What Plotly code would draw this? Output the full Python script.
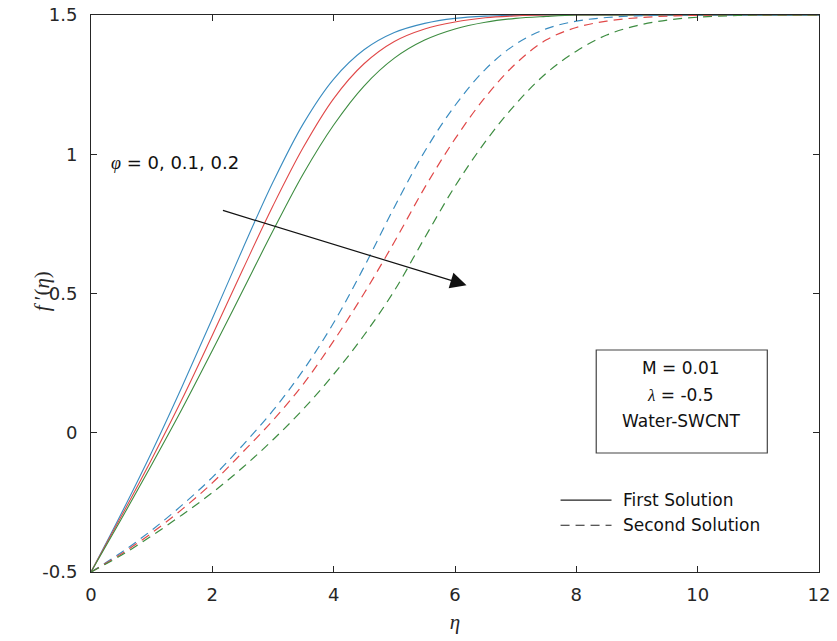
import plotly.graph_objects as go

# ---- data ----
eta_first = [0, 0.5, 1.0, 1.5, 2.0, 2.5, 3.0, 3.5, 4.0, 4.5, 5.0, 5.5, 6.0, 6.5, 7.0, 7.5, 8.0, 9.0, 10.0, 11.0, 12.0]
first_phi0 = [-0.5, -0.29, -0.07, 0.165, 0.41, 0.66, 0.90, 1.11, 1.27, 1.375, 1.437, 1.47, 1.488, 1.496, 1.499, 1.5, 1.5, 1.5, 1.5, 1.5, 1.5]
first_phi1 = [-0.5, -0.30, -0.095, 0.12, 0.35, 0.585, 0.815, 1.025, 1.20, 1.325, 1.405, 1.45, 1.475, 1.49, 1.497, 1.5, 1.5, 1.5, 1.5, 1.5, 1.5]
first_phi2 = [-0.5, -0.31, -0.115, 0.085, 0.295, 0.51, 0.725, 0.93, 1.105, 1.245, 1.345, 1.41, 1.45, 1.474, 1.488, 1.495, 1.5, 1.5, 1.5, 1.5, 1.5]

eta_second = [0, 0.5, 1.0, 1.5, 2.0, 2.5, 3.0, 3.5, 4.0, 4.5, 5.0, 5.5, 6.0, 6.5, 7.0, 7.5, 8.0, 8.5, 9.0, 9.5, 10.0, 10.5, 11.0, 12.0]
second_phi0 = [-0.5, -0.43, -0.35, -0.26, -0.16, -0.045, 0.08, 0.225, 0.395, 0.595, 0.81, 1.01, 1.175, 1.305, 1.395, 1.45, 1.478, 1.491, 1.497, 1.5, 1.5, 1.5, 1.5, 1.5]
second_phi1 = [-0.5, -0.435, -0.36, -0.275, -0.18, -0.07, 0.045, 0.175, 0.33, 0.50, 0.685, 0.88, 1.055, 1.205, 1.325, 1.41, 1.455, 1.478, 1.49, 1.496, 1.499, 1.5, 1.5, 1.5]
second_phi2 = [-0.5, -0.44, -0.37, -0.295, -0.215, -0.125, -0.025, 0.085, 0.21, 0.35, 0.51, 0.70, 0.885, 1.045, 1.18, 1.29, 1.37, 1.428, 1.462, 1.482, 1.492, 1.497, 1.5, 1.5]

phi_labels = ["0", "0.1", "0.2"]
colors = ["#3A8CC0", "#E04848", "#3D8C40"]

x_ticks = [0, 2, 4, 6, 8, 10, 12]
y_ticks = [-0.5, 0, 0.5, 1, 1.5]
y_ticktext = ["-0.5", "0", "0.5", "1", "1.5"]

arrow_start = (2.15, 0.80)
arrow_end = (6.19, 0.53)

legend_labels = ["First Solution", "Second Solution"]
legend_dashes = ["solid", "9px,6px"]

fig = go.Figure()

for ys, c, p in zip([first_phi0, first_phi1, first_phi2], colors, phi_labels):
    fig.add_trace(go.Scatter(x=eta_first, y=ys, mode="lines",
                             line=dict(color=c, width=1.1, shape="spline", smoothing=1.0),
                             name=f"First, φ={p}", showlegend=False))
for ys, c, p in zip([second_phi0, second_phi1, second_phi2], colors, phi_labels):
    fig.add_trace(go.Scatter(x=eta_second, y=ys, mode="lines",
                             line=dict(color=c, width=1.2, dash="9px,6px", shape="spline", smoothing=1.0),
                             name=f"Second, φ={p}", showlegend=False))

font_main = "DejaVu Sans, Arial, sans-serif"
serif = "Liberation Serif, Times New Roman, serif"

# arrow and phi label
fig.add_annotation(x=arrow_end[0], y=arrow_end[1], ax=arrow_start[0], ay=arrow_start[1],
                   xref="x", yref="y", axref="x", ayref="y", text="", showarrow=True,
                   arrowhead=2, arrowsize=2.7, arrowwidth=1.2, arrowcolor="#111111")
fig.add_annotation(x=0.29, y=0.97, xref="x", yref="y", xanchor="left", yanchor="middle",
                   text=f"<span style='font-family:{serif}'><i>φ</i></span> = " + ", ".join(phi_labels),
                   showarrow=False, font=dict(family=font_main, size=18, color="#111111"))

# parameter box
fig.add_shape(type="rect", xref="paper", yref="paper", x0=0.694, x1=0.929, y0=0.2136, y1=0.3986,
              line=dict(color="#444444", width=1.2), fillcolor="white", layer="above")
box_lines = ["M = 0.01", f"<span style='font-family:{serif}'><i>λ</i></span> = -0.5", "Water-SWCNT"]
box_y = [0.366, 0.318, 0.271]
for t, yy in zip(box_lines, box_y):
    fig.add_annotation(x=0.810, y=yy, xref="paper", yref="paper", text=t, showarrow=False,
                       xanchor="center", yanchor="middle", font=dict(family=font_main, size=17, color="#111111"))

# legend (line samples + labels)
leg_y = [0.129, 0.084]
for lab, d, yy in zip(legend_labels, legend_dashes, leg_y):
    fig.add_shape(type="line", xref="paper", yref="paper", x0=0.645, x1=0.715, y0=yy, y1=yy,
                  line=dict(color="#222222", width=1.1, dash=d))
    fig.add_annotation(x=0.728, y=yy, xref="paper", yref="paper", text=lab, showarrow=False,
                       xanchor="left", yanchor="middle", font=dict(family=font_main, size=17, color="#111111"))

# y-axis title
fig.add_annotation(x=-0.0673, y=0.504, xref="paper", yref="paper", text="<i>f</i> ′(<i>η</i>)",
                   textangle=-90, showarrow=False, xanchor="center", yanchor="middle",
                   font=dict(family=serif, size=21, color="#262626"))

fig.update_layout(
    width=837, height=641,
    margin=dict(l=91, r=18, t=15, b=69),
    paper_bgcolor="white", plot_bgcolor="white",
    font=dict(family=font_main, size=18, color="#262626"),
    showlegend=False,
    xaxis=dict(range=[0, 12], tickvals=x_ticks, ticks="inside", ticklen=6, tickcolor="#262626",
               showline=True, linecolor="#262626", linewidth=1, mirror="ticks", showgrid=False, zeroline=False,
               ticklabelstandoff=6, automargin=False,
               title=dict(text="<i>η</i>", font=dict(family=serif, size=21, color="#262626"), standoff=10)),
    yaxis=dict(range=[-0.5, 1.5], tickvals=y_ticks, ticktext=y_ticktext, ticks="inside", ticklen=6, tickcolor="#262626",
               showline=True, linecolor="#262626", linewidth=1, mirror="ticks", showgrid=False, zeroline=False,
               ticklabelstandoff=9, automargin=False),
)

fig.write_html("out.html")
